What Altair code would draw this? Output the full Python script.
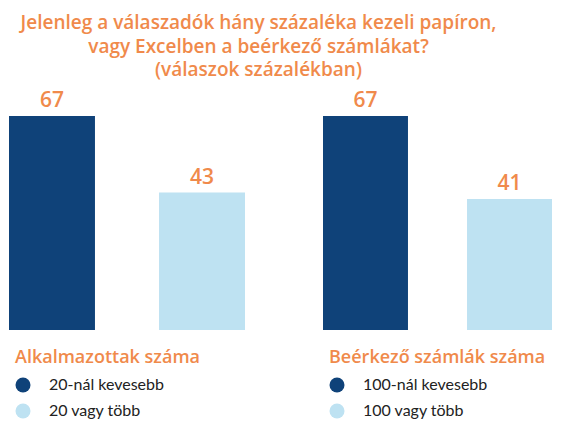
import altair as alt
import pandas as pd

# chart text and values
title_lines = [
    "Jelenleg a válaszadók hány százaléka kezeli papíron,",
    "vagy Excelben a beérkező számlákat?",
    "(válaszok százalékban)",
]
groups = ["Alkalmazottak száma", "Beérkező számlák száma"]
left_cats = ["20-nál kevesebb", "20 vagy több"]
left_vals = [67, 43]
right_cats = ["100-nál kevesebb", "100 vagy több"]
right_vals = [67, 41]

orange = "#F08A4B"
bar_colors = ["#0F4279", "#BEE2F2"]
font = "Lato"
head_font = "Open Sans"


def panel(cats, vals, group, width, pad_inner):
    df = pd.DataFrame({"cat": cats, "value": vals})
    base = alt.Chart(df).encode(
        x=alt.X("cat:N", sort=cats, axis=None,
                scale=alt.Scale(paddingInner=pad_inner, paddingOuter=0)),
        y=alt.Y("value:Q", axis=None, scale=alt.Scale(domain=[0, 77])),
    )
    bars = base.mark_bar().encode(
        color=alt.Color(
            "cat:N",
            scale=alt.Scale(domain=cats, range=bar_colors),
            legend=alt.Legend(
                title=group, orient="none", legendX=6, legendY=265,
                symbolType="circle", symbolSize=225, symbolStrokeWidth=0,
                labelFont=font, labelFontSize=16, labelColor="#222222",
                labelOffset=18, titleFont=head_font, titleFontSize=18,
                titleFontWeight=600, titleColor=orange, titlePadding=10,
                rowPadding=10, padding=0, titleLimit=400, labelLimit=400,
            ),
        )
    )
    labels = base.mark_text(
        dy=-9, baseline="alphabetic", font=head_font, fontSize=21,
        fontWeight=600, color=orange,
    ).encode(text="value:Q")
    return alt.layer(bars, labels).properties(width=width, height=246)


left = panel(left_cats, left_vals, groups[0], 236, 0.427)
right = panel(right_cats, right_vals, groups[1], 229, 0.41)

chart = alt.hconcat(left, right, spacing=78).resolve_scale(
    color="independent", x="independent"
).properties(
    title=alt.Title(text=title_lines, font=head_font, fontSize=19, fontWeight=600,
                    color=orange, lineHeight=23.5, anchor="middle", offset=4, dx=-22),
    padding={"left": 1, "top": 6, "right": 0, "bottom": 0},
).configure_view(strokeWidth=0)

chart.save("out.html", embed_options={"renderer": "svg", "actions": False})
